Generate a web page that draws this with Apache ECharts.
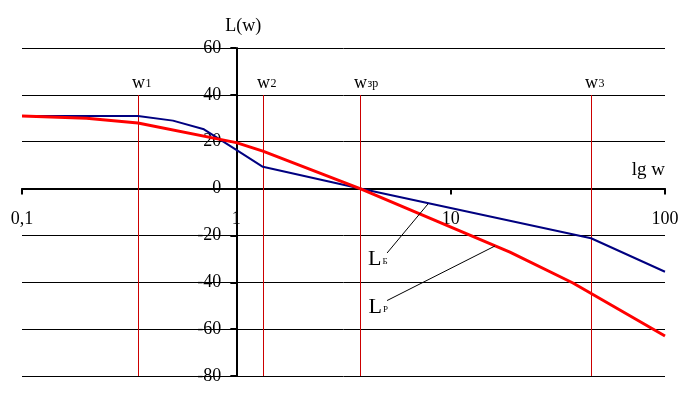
<!DOCTYPE html>
<html>
<head>
<meta charset="utf-8">
<script src="https://cdn.jsdelivr.net/npm/echarts@6/dist/echarts.min.js"></script>
<style>
  html, body { margin: 0; padding: 0; background: #fff; }
  #chart { width: 687px; height: 398px; }
</style>
</head>
<body>
<div id="chart"></div>
<script>
// ЛАХ: базовая (LБ) и желаемая (LР)
const xTicks = [0.1, 1, 10, 100];
const yMin = -80, yMax = 60, yStep = 20;

const baseW = [0.1, 0.3475, 0.506, 0.706, 1.0, 1.33, 3.78, 45.2, 100];
const baseL = [31, 31, 29, 25.3, 16.5, 9.3, 0, -21.2, -35.5];

const desW = [0.1, 0.2, 0.3475, 1.0, 1.33, 3.78, 18.9, 37.2, 100];
const desL = [31, 30, 28, 19.6, 16, 0, -27.1, -40.3, -62.9];

// характерные частоты
const critW = [0.3475, 1.33, 3.78, 45.2];
const critSub = ['1', '2', 'зр', '3'];
const critTop = 40;

// выноски LБ / LР
const tagSub = ['Б', 'Р'];
const tagFrom = [[5.05, -27.5], [5.05, -47.8]];
const tagTo = [[7.83, -6.6], [16.1, -24.5]];

const serif = 'Liberation Serif';
const W = 687, H = 398;
const gridL = 22, gridR = 22, gridT = 48, gridB = 22;
const gridW = W - gridL - gridR;
const gridH = H - gridT - gridB;
const lg = Math.log10;

const chart = echarts.init(document.getElementById('chart'));

// вертикальные линии на характерных частотах + подписи w1, w2 ...
function renderCrit(params, api) {
  const w = api.value(0);
  const top = api.coord([w, critTop]);
  const bot = api.coord([w, yMin]);
  const x = Math.round(top[0]) + 0.5;
  const sub = critSub[params.dataIndex];
  return {
    type: 'group',
    children: [
      {
        type: 'line',
        shape: { x1: x, y1: Math.round(top[1]), x2: x, y2: Math.round(bot[1]) },
        style: { stroke: '#cc0000', lineWidth: 1 }
      },
      {
        type: 'text',
        x: x,
        y: top[1] - 3,
        style: { text: 'w', fontFamily: serif, fontSize: 18, fill: '#000', align: 'center', verticalAlign: 'bottom' }
      },
      {
        type: 'text',
        x: x + 7,
        y: top[1] - 5,
        style: { text: sub, fontFamily: serif, fontSize: 12, fill: '#000', align: 'left', verticalAlign: 'bottom' }
      }
    ]
  };
}

const option = {
  animation: false,
  grid: {
    left: gridL, right: gridR, top: gridT, bottom: gridB,
    containLabel: false, outerBoundsMode: 'none'
  },
  xAxis: {
    type: 'log',
    logBase: 10,
    min: xTicks[0],
    max: xTicks[xTicks.length - 1],
    position: 'bottom',
    // ось абсцисс проходит через L = 0
    offset: -gridH * (0 - yMin) / (yMax - yMin),
    name: 'lg w',
    nameLocation: 'end',
    nameGap: 0,
    nameTextStyle: {
      fontFamily: serif, fontSize: 19, color: '#000',
      align: 'right', verticalAlign: 'bottom', padding: [0, 0, 9, 0]
    },
    axisLine: { onZero: false, lineStyle: { color: '#000', width: 2 } },
    axisTick: { length: 6, lineStyle: { color: '#000', width: 2 } },
    axisLabel: {
      margin: 22, fontFamily: serif, fontSize: 18, color: '#000',
      showMinLabel: true, showMaxLabel: true,
      formatter: v => String(v).replace('.', ',')
    },
    splitLine: { show: false }
  },
  yAxis: {
    type: 'value',
    min: yMin,
    max: yMax,
    interval: yStep,
    position: 'left',
    // ось ординат проходит через w = 1
    offset: -gridW * (lg(1) - lg(xTicks[0])) / (lg(xTicks[3]) - lg(xTicks[0])),
    name: 'L(w)',
    nameLocation: 'end',
    nameGap: 13,
    nameTextStyle: { fontFamily: serif, fontSize: 18, color: '#000', padding: [0, 0, 0, 14] },
    axisLine: { show: true, onZero: false, lineStyle: { color: '#000', width: 2 } },
    axisTick: { show: true, length: 6, lineStyle: { color: '#000', width: 2 } },
    axisLabel: { margin: 15, fontFamily: serif, fontSize: 18, color: '#000', padding: [4, 0, 0, 0] },
    splitLine: { show: true, lineStyle: { color: '#000', width: 1 } }
  },
  series: [
    {
      type: 'custom',
      z: 1,
      silent: true,
      data: critW.map(w => [w, critTop]),
      encode: { x: 0, y: 1 },
      renderItem: renderCrit
    },
    {
      type: 'line',
      data: [],
      z: 2,
      markLine: {
        silent: true,
        symbol: 'none',
        animation: false,
        lineStyle: { color: '#000', width: 1, type: 'solid' },
        label: {
          show: true,
          position: 'start',
          align: 'right',
          verticalAlign: 'top',
          formatter: p => '{L|L}{s|' + p.name + '}',
          rich: {
            L: { fontFamily: serif, fontSize: 22, color: '#000', verticalAlign: 'bottom' },
            s: { fontFamily: serif, fontSize: 9, color: '#000', verticalAlign: 'bottom', padding: [0, 0, 4, 1] }
          }
        },
        data: tagSub.map((s, i) => [
          { coord: tagFrom[i], name: s, label: { distance: i ? [-1, -9] : [-1, -6.5] } },
          { coord: tagTo[i] }
        ])
      }
    },
    {
      name: 'LБ',
      type: 'line',
      data: baseW.map((w, i) => [w, baseL[i]]),
      symbol: 'none',
      z: 3,
      lineStyle: { color: '#000080', width: 2 }
    },
    {
      name: 'LР',
      type: 'line',
      data: desW.map((w, i) => [w, desL[i]]),
      symbol: 'none',
      z: 4,
      lineStyle: { color: '#ff0000', width: 3 }
    }
  ]
};

chart.setOption(option);
</script>
</body>
</html>
